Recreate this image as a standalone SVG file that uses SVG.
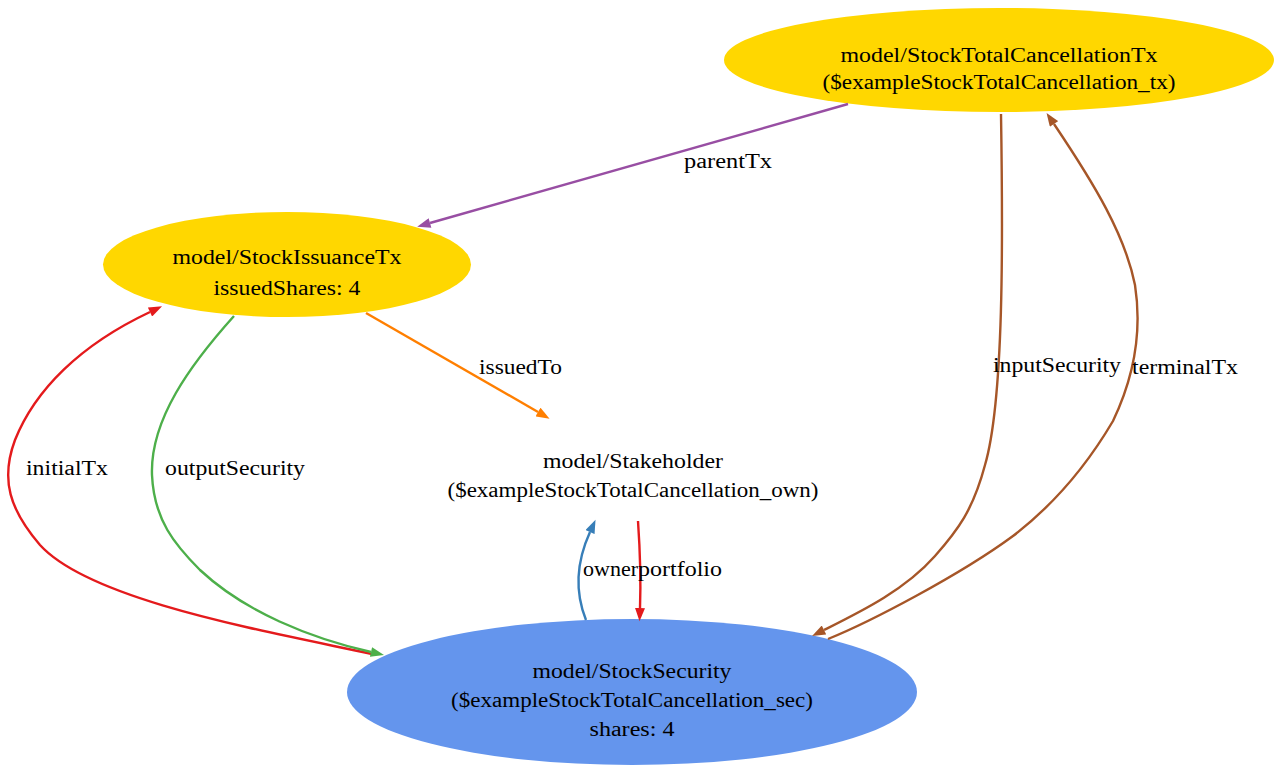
<svg xmlns="http://www.w3.org/2000/svg" width="1281" height="765" viewBox="0 0 1281 765">
<style>
text{font-family:"Liberation Serif","Times New Roman",serif;font-size:20px;fill:#000}
.n{text-anchor:middle}
.e{fill:none;stroke-width:2.4}
</style>
<defs>
<marker id="aPurple" markerUnits="userSpaceOnUse" markerWidth="14" markerHeight="10" refX="0" refY="4.5" orient="auto" viewBox="0 0 12 9"><path d="M0,0 L12,4.5 L0,9 Z" fill="#984ea3"/></marker>
<marker id="aOrange" markerUnits="userSpaceOnUse" markerWidth="14" markerHeight="10" refX="0" refY="4.5" orient="auto" viewBox="0 0 12 9"><path d="M0,0 L12,4.5 L0,9 Z" fill="#ff7f00"/></marker>
<marker id="aRed" markerUnits="userSpaceOnUse" markerWidth="14" markerHeight="10" refX="0" refY="4.5" orient="auto" viewBox="0 0 12 9"><path d="M0,0 L12,4.5 L0,9 Z" fill="#e41a1c"/></marker>
<marker id="aGreen" markerUnits="userSpaceOnUse" markerWidth="14" markerHeight="10" refX="0" refY="4.5" orient="auto" viewBox="0 0 12 9"><path d="M0,0 L12,4.5 L0,9 Z" fill="#4daf4a"/></marker>
<marker id="aBlue" markerUnits="userSpaceOnUse" markerWidth="14" markerHeight="10" refX="0" refY="4.5" orient="auto" viewBox="0 0 12 9"><path d="M0,0 L12,4.5 L0,9 Z" fill="#377eb8"/></marker>
<marker id="aBrown" markerUnits="userSpaceOnUse" markerWidth="14" markerHeight="10" refX="0" refY="4.5" orient="auto" viewBox="0 0 12 9"><path d="M0,0 L12,4.5 L0,9 Z" fill="#a65628"/></marker>
</defs>
<rect width="1281" height="765" fill="#fff"/>

<g id="node-cancellationTx">
<ellipse cx="999" cy="60" rx="275" ry="52" fill="#ffd700"/>
<text class="n" x="999" y="62" textLength="317" lengthAdjust="spacingAndGlyphs">model/StockTotalCancellationTx</text>
<text class="n" x="999" y="89" textLength="353" lengthAdjust="spacingAndGlyphs">($exampleStockTotalCancellation_tx)</text>
</g>

<g id="node-issuanceTx">
<ellipse cx="287" cy="264.5" rx="184" ry="52.5" fill="#ffd700"/>
<text class="n" x="287" y="264" textLength="229" lengthAdjust="spacingAndGlyphs">model/StockIssuanceTx</text>
<text class="n" x="287" y="295" textLength="147" lengthAdjust="spacingAndGlyphs">issuedShares: 4</text>
</g>

<g id="node-stakeholder">
<text class="n" x="633" y="468" textLength="180" lengthAdjust="spacingAndGlyphs">model/Stakeholder</text>
<text class="n" x="633" y="497" textLength="371" lengthAdjust="spacingAndGlyphs">($exampleStockTotalCancellation_own)</text>
</g>

<g id="node-security">
<ellipse cx="632" cy="692" rx="285" ry="73" fill="#6495ed"/>
<text class="n" x="632" y="678" textLength="199" lengthAdjust="spacingAndGlyphs">model/StockSecurity</text>
<text class="n" x="632" y="707" textLength="362" lengthAdjust="spacingAndGlyphs">($exampleStockTotalCancellation_sec)</text>
<text class="n" x="632" y="736" textLength="85" lengthAdjust="spacingAndGlyphs">shares: 4</text>
</g>

<g id="connectors">
<path class="e" stroke="#984ea3" marker-end="url(#aPurple)" d="M848,104 L430,223"/>
<text x="684" y="168" textLength="88" lengthAdjust="spacingAndGlyphs">parentTx</text>

<path class="e" stroke="#ff7f00" marker-end="url(#aOrange)" d="M366,313 L538,412"/>
<text x="479" y="374" textLength="83" lengthAdjust="spacingAndGlyphs">issuedTo</text>

<path class="e" stroke="#e41a1c" marker-end="url(#aRed)" d="M372,654 C260,630 90,600 40,545 C10,510 0,480 15,440 C35,390 80,345 150,312"/>
<text x="26" y="475" textLength="82" lengthAdjust="spacingAndGlyphs">initialTx</text>

<path class="e" stroke="#4daf4a" marker-end="url(#aGreen)" d="M234,316 C190,365 150,420 152,475 C154,520 175,545 200,570 C245,612 310,638 371,652"/>
<text x="165" y="475" textLength="140" lengthAdjust="spacingAndGlyphs">outputSecurity</text>

<path class="e" stroke="#377eb8" marker-end="url(#aBlue)" d="M586,620 C576,595 575,565 590,532"/>
<text x="583" y="576" textLength="55" lengthAdjust="spacingAndGlyphs">owner</text>

<path class="e" stroke="#e41a1c" marker-end="url(#aRed)" d="M638,521 C640,550 641,580 640,608"/>
<text x="638" y="576" textLength="84" lengthAdjust="spacingAndGlyphs">portfolio</text>

<path class="e" stroke="#a65628" marker-end="url(#aBrown)" d="M1001,114 C1003,240 1004,400 985,465 C973,510 958,530 935,556 C905,590 862,611 824,630"/>
<text x="993" y="372" textLength="128" lengthAdjust="spacingAndGlyphs">inputSecurity</text>

<path class="e" stroke="#a65628" marker-end="url(#aBrown)" d="M828,639 C870,622 960,575 1013,536 C1060,500 1090,460 1113,421 C1135,375 1142,330 1135,285 C1125,235 1095,185 1054,124"/>
<text x="1132" y="374" textLength="106" lengthAdjust="spacingAndGlyphs">terminalTx</text>
</g>
</svg>
